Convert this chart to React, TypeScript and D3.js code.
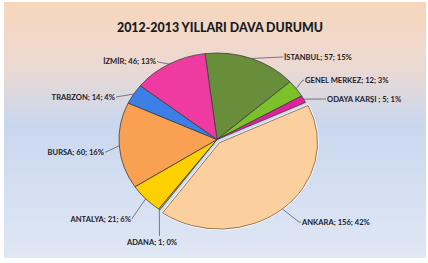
import React from "react";
import * as d3 from "d3";

const categories = ["İSTANBUL", "GENEL MERKEZ", "ODAYA KARŞI ", "ANKARA", "ADANA", "ANTALYA", "BURSA", "TRABZON", "İZMİR"];
const values = [57, 12, 5, 156, 1, 21, 60, 14, 46];
const percents = ["15%", "3%", "1%", "42%", "0%", "6%", "16%", "4%", "13%"];
const colors = ["#688e3c", "#7cc02a", "#e0239c", "#fccf9f", "#e8b000", "#ffd000", "#f9a052", "#3c7fe6", "#ef3aa2"];
const title = "2012-2013 YILLARI DAVA DURUMU";
const explodedCategory = "ANKARA";

// label layout (annotation placement): leader elbow + text anchor
const LABEL_LAYOUT: Record<string, { ex: number; ey: number; tx: number; ty: number; anchor: string }> = {
  "İSTANBUL": { ex: 282, ey: 57, tx: 284, ty: 57, anchor: "start" },
  "GENEL MERKEZ": { ex: 302, ey: 81, tx: 305, ty: 80, anchor: "start" },
  "ODAYA KARŞI ": { ex: 325, ey: 99, tx: 327, ty: 99, anchor: "start" },
  "ANKARA": { ex: 299, ey: 222, tx: 302, ty: 222, anchor: "start" },
  "ADANA": { ex: 159.5, ey: 236, tx: 152, ty: 242, anchor: "middle" },
  "ANTALYA": { ex: 133, ey: 217, tx: 131, ty: 219, anchor: "end" },
  "BURSA": { ex: 106, ey: 152, tx: 104, ty: 152, anchor: "end" },
  "TRABZON": { ex: 116, ey: 97, tx: 115, ty: 97, anchor: "end" },
  "İZMİR": { ex: 158, ey: 62, tx: 156, ty: 61, anchor: "end" },
};

const W = 428, H = 263;
const cx = 217, cy = 139.5, rx = 98, ry = 86.5;
const explode = 4;

export default function App() {
  const data = categories.map((c, i) => ({ c, v: values[i], p: percents[i], col: colors[i] }));
  const start = (-7 * Math.PI) / 180;
  const pie = d3.pie<any>().value((d) => d.v).sort(null).startAngle(start).endAngle(start + 2 * Math.PI);
  const arcs = pie(data);
  const arc = d3.arc<any>().innerRadius(0).outerRadius(ry);
  const sx = rx / ry;

  const pt = (a: number, k = 1) => [cx + rx * k * Math.sin(a), cy - ry * k * Math.cos(a)];

  return (
    <svg width={W} height={H} style={{ position: "absolute", left: 0, top: 0 }}>
      <defs>
        <linearGradient id="bg" x1="0" y1="0" x2="0" y2="1">
          <stop offset="0" stopColor="#f7d6bc" />
          <stop offset="0.25" stopColor="#ecd9d2" />
          <stop offset="0.48" stopColor="#c9d7ee" />
          <stop offset="1" stopColor="#e0e7f5" />
        </linearGradient>
      </defs>
      <rect x={0} y={0} width={W} height={H} fill="#ffffff" />
      <rect x={4} y={2} width={422} height={256} fill="url(#bg)" />
      <text x={220} y={32} textAnchor="middle" fontFamily="Lato, 'Open Sans', sans-serif" fontWeight="900" fontSize={14} fill="#1a1a1e" textLength={206} lengthAdjust="spacingAndGlyphs">
        {title}
      </text>
      {arcs.map((a, i) => {
        const isEx = a.data.c === explodedCategory;
        const mid = (a.startAngle + a.endAngle) / 2;
        const dx = isEx ? explode * Math.sin(mid) : 0;
        const dy = isEx ? -explode * Math.cos(mid) : 0;
        return (
          <g key={i} transform={`translate(${cx + dx},${cy + dy}) scale(${sx},1)`}>
            {isEx && (
              <path d={arc(a) as string} fill="none" stroke="#ffffff" strokeWidth={2.2} strokeLinejoin="round" vectorEffect="non-scaling-stroke" />
            )}
            <path d={arc(a) as string} fill={a.data.col} stroke={isEx ? "#7a5a40" : "#3d3d3d"} strokeWidth={0.8} strokeLinejoin="round" vectorEffect="non-scaling-stroke" />
          </g>
        );
      })}
      {arcs.map((a, i) => {
        const L = LABEL_LAYOUT[a.data.c];
        const isEx = a.data.c === explodedCategory;
        const mid = (a.startAngle + a.endAngle) / 2;
        let [x0, y0] = pt(mid);
        if (isEx) {
          x0 += explode * Math.sin(mid);
          y0 -= explode * Math.cos(mid);
        }
        const endX = L.anchor === "start" ? L.tx - 1 : L.anchor === "end" ? L.tx + 1 : L.ex;
        const endY = L.anchor === "middle" ? L.ey : L.ty;
        const pts = [[x0, y0], [L.ex, L.ey], [endX, endY]];
        return (
          <g key={"l" + i}>
            <path d={d3.line()(pts as any) as string} fill="none" stroke="#4a4a55" strokeWidth={0.7} />
            <text x={L.tx} y={L.ty} dy="0.35em" textAnchor={L.anchor} fontFamily="Lato, 'Open Sans', sans-serif" fontWeight="bold" fontSize={7.6} fill="#1c1c2a">
              {`${a.data.c}; ${a.data.v}; ${a.data.p}`}
            </text>
          </g>
        );
      })}
    </svg>
  );
}
